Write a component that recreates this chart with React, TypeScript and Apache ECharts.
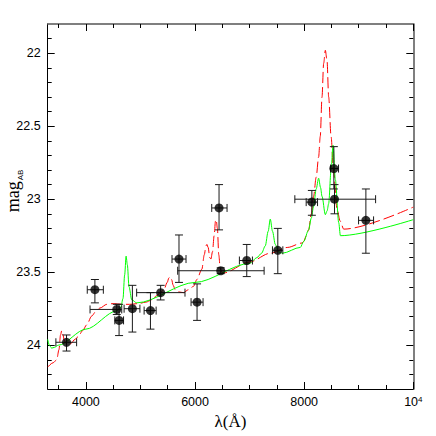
import React, { useEffect, useRef } from "react";
import * as echarts from "echarts";

// Observed photometry points
const pointX = [3645, 4165, 4566, 4608, 4852, 5183, 5370, 5706, 6037, 6440, 6471, 6948, 7517, 8141, 8544, 8556, 9131];
const pointY = [23.98, 23.62, 23.755, 23.83, 23.75, 23.763, 23.64, 23.41, 23.705, 23.06, 23.49, 23.42, 23.35, 23.02, 22.79, 23.0, 23.145];
const xLow = [3450, 4025, 4076, 4530, 4700, 5067, 4930, 5578, 5927, 6306, 5682, 6813, 7419, 8037, 8483, 7829, 8997];
const xHigh = [3830, 4320, 4657, 4690, 4990, 5287, 5816, 5835, 6147, 6587, 7266, 7052, 7609, 8245, 8630, 9309, 9272];
const yLow = [23.93, 23.55, 23.72, 23.72, 23.59, 23.64, 23.59, 23.245, 23.58, 22.9, 23.47, 23.31, 23.2, 22.94, 22.64, 22.9, 22.93];
const yHigh = [24.04, 23.71, 23.79, 23.934, 23.91, 23.89, 23.69, 23.57, 23.83, 23.21, 23.51, 23.53, 23.51, 23.11, 22.93, 23.1, 23.37];

// Model curves (wavelength, mag)
const redModel: number[][] = [
  [3300, 24.15], [3400, 24.12], [3465, 24.1], [3507, 24.03], [3535, 23.93], [3557, 23.9], [3580, 23.93],
  [3605, 23.97], [3640, 23.99], [3678, 24.0], [3720, 23.99], [3800, 23.96], [3862, 23.94], [3940, 23.9],
  [4016, 23.86], [4107, 23.8], [4180, 23.77], [4260, 23.745], [4383, 23.72], [4500, 23.715], [4657, 23.72],
  [4800, 23.72], [4962, 23.715], [5100, 23.705], [5208, 23.69], [5300, 23.66], [5361, 23.64], [5430, 23.62],
  [5490, 23.57], [5520, 23.54], [5544, 23.53], [5570, 23.55], [5600, 23.59], [5636, 23.62], [5700, 23.635],
  [5788, 23.64], [5880, 23.62], [5972, 23.597], [6034, 23.55], [6125, 23.48], [6170, 23.38], [6200, 23.32],
  [6217, 23.31], [6240, 23.33], [6270, 23.4], [6291, 23.41], [6320, 23.36], [6350, 23.25], [6375, 23.15],
  [6388, 23.14], [6410, 23.2], [6435, 23.38], [6461, 23.47], [6490, 23.5], [6522, 23.505], [7000, 23.43],
  [7379, 23.37], [7700, 23.33], [7960, 23.3], [7990, 23.29], [8040, 23.25], [8082, 23.21], [8130, 23.1],
  [8173, 22.98], [8220, 22.85], [8265, 22.71], [8295, 22.57], [8327, 22.3], [8357, 22.07], [8388, 21.98],
  [8419, 22.05], [8449, 22.3], [8493, 22.57], [8540, 22.82], [8603, 23.07], [8660, 23.15], [8725, 23.205],
  [10000, 23.054],
];
const greenModel: number[][] = [
  [3300, 23.96], [3330, 24.0], [3373, 24.02], [3420, 24.015], [3495, 24.0], [4000, 23.89], [4566, 23.765],
  [4640, 23.74], [4680, 23.68], [4710, 23.52], [4737, 23.39], [4760, 23.45], [4790, 23.6], [4841, 23.69],
  [4933, 23.71], [6000, 23.57], [7000, 23.44], [7134, 23.4], [7220, 23.37], [7287, 23.32], [7340, 23.22],
  [7379, 23.136], [7420, 23.22], [7471, 23.31], [7532, 23.36], [7600, 23.37], [7930, 23.33], [7990, 23.29],
  [8082, 23.21], [8130, 23.13], [8173, 23.05], [8220, 22.93], [8265, 22.856], [8300, 22.92], [8327, 22.98],
  [8388, 23.106], [8420, 23.08], [8449, 23.03], [8493, 22.8], [8529, 22.63], [8572, 22.867], [8633, 23.16],
  [8664, 23.25], [10000, 23.14],
];

// Axis ticks
const xMajorTicks = [4000, 6000, 8000, 10000];
const xMinorTicks = [3500, 4500, 5000, 5500, 6500, 7000, 7500, 8500, 9000, 9500];
const xLabelValues = [4000, 6000, 8000, 10000];
const yMajorTicks = [22, 22.5, 23, 23.5, 24];
const yMinorTicks = [21.9, 22.1, 22.2, 22.3, 22.4, 22.6, 22.7, 22.8, 22.9, 23.1, 23.2, 23.3, 23.4, 23.6, 23.7, 23.8, 23.9, 24.1, 24.2];

const X_MIN = 3300, X_MAX = 10000, Y_MIN = 21.8, Y_MAX = 24.3;

export default function App() {
  const ref = useRef<HTMLDivElement>(null);
  useEffect(() => {
    if (!ref.current) return;
    const chart = echarts.init(ref.current, null, { renderer: "svg" });

    const baseX = (pos: string, ticks: number[], len: number, showLine: boolean, lineColor: string, lineWidth: number, labels: boolean) => ({
      type: "value", position: pos, min: X_MIN, max: X_MAX, splitLine: { show: false },
      axisLine: { show: showLine, onZero: false, lineStyle: { color: lineColor, width: lineWidth } },
      axisTick: { show: true, inside: true, length: len, customValues: ticks, lineStyle: { color: "#000", width: 1 } },
      axisLabel: labels ? {
        show: true, customValues: xLabelValues, margin: 6, color: "#000", fontFamily: "Liberation Sans", fontSize: 12.5,
        formatter: (v: number) => (v === 10000 ? "{a|10}{b|4}" : String(v)),
        rich: { a: { fontFamily: "Liberation Sans", fontSize: 12.5, color: "#000" }, b: { fontFamily: "Liberation Sans", fontSize: 8, color: "#000", verticalAlign: "top", padding: [0, 0, 6, 0] } },
      } : { show: false },
    });
    const baseY = (pos: string, ticks: number[], len: number, showLine: boolean, lineColor: string, lineWidth: number, labels: boolean) => ({
      type: "value", position: pos, min: Y_MIN, max: Y_MAX, inverse: true, splitLine: { show: false },
      axisLine: { show: showLine, onZero: false, lineStyle: { color: lineColor, width: lineWidth } },
      axisTick: { show: true, inside: true, length: len, customValues: ticks, lineStyle: { color: "#000", width: 1 } },
      axisLabel: labels ? { show: true, customValues: yMajorTicks, margin: 7, color: "#000", fontFamily: "Liberation Sans", fontSize: 12.5 } : { show: false },
    });

    const xAxes: any[] = [
      { ...baseX("bottom", xMajorTicks, 7, true, "#000", 1, true), name: "λ(Å)", nameLocation: "middle", nameGap: 20, nameTextStyle: { fontFamily: "Liberation Serif", fontSize: 17, color: "#000" } },
      baseX("bottom", xMinorTicks, 4, false, "#000", 1, false),
      baseX("top", xMajorTicks, 7, true, "#555", 1.5, false),
      baseX("top", xMinorTicks, 4, false, "#000", 1, false),
    ];
    const yAxes: any[] = [
      baseY("left", yMajorTicks, 7, true, "#000", 1, true),
      baseY("left", yMinorTicks, 4, false, "#000", 1, false),
      baseY("right", yMajorTicks, 7, true, "#555", 1.5, false),
      baseY("right", yMinorTicks, 4, false, "#000", 1, false),
    ];

    const errData = pointX.map((x, i) => [x, pointY[i], xLow[i], xHigh[i], yLow[i], yHigh[i]]);
    const scatterData = pointX.map((x, i) => [x, pointY[i]]);

    const renderErr = (_params: any, api: any) => {
      const p = api.coord([api.value(0), api.value(1)]);
      const xl = api.coord([api.value(2), api.value(1)]);
      const xh = api.coord([api.value(3), api.value(1)]);
      const yl = api.coord([api.value(0), api.value(4)]);
      const yh = api.coord([api.value(0), api.value(5)]);
      const c = 4;
      const style = { stroke: "#1a1a1a", lineWidth: 1, fill: null };
      const ln = (x1: number, y1: number, x2: number, y2: number) => ({ type: "line", shape: { x1, y1, x2, y2 }, style });
      return {
        type: "group",
        children: [
          ln(xl[0], p[1], xh[0], p[1]),
          ln(xl[0], p[1] - c, xl[0], p[1] + c),
          ln(xh[0], p[1] - c, xh[0], p[1] + c),
          ln(p[0], yl[1], p[0], yh[1]),
          ln(p[0] - c, yl[1], p[0] + c, yl[1]),
          ln(p[0] - c, yh[1], p[0] + c, yh[1]),
        ],
      };
    };

    chart.setOption({
      animation: false,
      grid: { left: 47.7, right: 22.7, top: 24, bottom: 47 },
      xAxis: xAxes,
      yAxis: yAxes,
      series: [
        { type: "line", data: redModel, xAxisIndex: 0, yAxisIndex: 0, showSymbol: false, smooth: 0.3, smoothMonotone: "x",
          lineStyle: { color: "#ff0000", width: 1, type: [11, 4] }, z: 2 },
        { type: "line", data: greenModel, xAxisIndex: 0, yAxisIndex: 0, showSymbol: false, smooth: 0.3, smoothMonotone: "x",
          lineStyle: { color: "#00ff00", width: 1 }, z: 2 },
        { type: "custom", data: errData, xAxisIndex: 0, yAxisIndex: 0, renderItem: renderErr,
          encode: { x: [0, 2, 3], y: [1, 4, 5] }, z: 3 },
        { type: "scatter", data: scatterData, xAxisIndex: 0, yAxisIndex: 0, symbol: "circle", symbolSize: 9,
          itemStyle: { color: "#000" }, z: 4 },
      ],
      graphic: [
        { type: "text", x: 13, y: 191, rotation: Math.PI / 2,
          style: { text: "{m|mag}{s|AB}", align: "center", verticalAlign: "middle",
            rich: { m: { fontFamily: "Liberation Serif", fontSize: 18, fill: "#000", color: "#000" },
                    s: { fontFamily: "Liberation Sans", fontSize: 8, fill: "#000", color: "#000", verticalAlign: "bottom", padding: [0, 0, -2, 1] } } } },
      ],
    });
    return () => chart.dispose();
  }, []);
  return <div ref={ref} style={{ position: "absolute", left: 0, top: 0, width: 436, height: 436 }} />;
}
